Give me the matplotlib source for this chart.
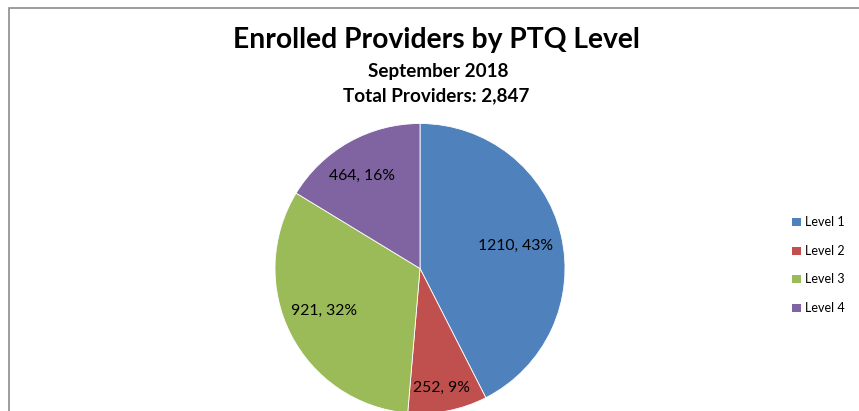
import numpy as np
import matplotlib
matplotlib.use("Agg")
import matplotlib.pyplot as plt
from matplotlib.patches import Rectangle

categories = ["Level 1", "Level 2", "Level 3", "Level 4"]
values = [1210, 252, 921, 464]
title = "Enrolled Providers by PTQ Level"
subtitle1 = "September 2018"
subtitle2 = "Total Providers: 2,847"

colors = ["#4F81BD", "#C0504D", "#9BBB59", "#8064A2"]
# label placement (radius fraction, angle in degrees) - Excel "best fit"
label_r = [0.68, 0.84, 0.724, 0.753]
label_ang = [13.2, -79.6, 203.9, 122.1]

W, H = 859, 411
fig = plt.figure(figsize=(W / 100, H / 100), dpi=100)
plt.rcParams['font.family'] = ['Lato', 'DejaVu Sans']

# outer frame
fig.patches.append(Rectangle((9 / W, -0.1), 1.2, 1 - 8 / H + 0.1, transform=fig.transFigure,
                             fill=False, edgecolor="#8c8c8c", linewidth=1.2))

cx, cy, r = 420, 268.5, 145
ax = fig.add_axes([(cx - r) / W, 1 - (cy + r) / H, 2 * r / W, 2 * r / H])
wedges, _ = ax.pie(values, colors=colors, startangle=90, counterclock=False, radius=1,
                   wedgeprops=dict(edgecolor="white", linewidth=0.6))
for w in wedges:
    w.set_clip_on(False)
ax.set_xlim(-1, 1)
ax.set_ylim(-1, 1)
ax.set_aspect("equal")
ax.axis("off")

total = sum(values)
for v, lr, la in zip(values, label_r, label_ang):
    pct = round(v / total * 100)
    ax.text(lr * np.cos(np.radians(la)), lr * np.sin(np.radians(la)), f"{v}, {pct}%",
            ha="center", va="center", fontsize=11.3, color="black")

fig.text(436 / W, 1 - 40 / H, title, ha="center", va="center", fontsize=20.3, fontweight="bold")
fig.text(438 / W, 1 - 71 / H, subtitle1, ha="center", va="center", fontsize=13.6, fontweight="bold")
fig.text(436 / W, 1 - 96 / H, subtitle2, ha="center", va="center", fontsize=13.6, fontweight="bold")

# legend
for i, lab in enumerate(categories):
    y = 222 + i * 28.7
    fig.patches.append(Rectangle((792 / W, 1 - (y + 4) / H), 9 / W, 8 / H, transform=fig.transFigure,
                                 facecolor=colors[i], edgecolor="none"))
    fig.text(805 / W, 1 - y / H, lab, ha="left", va="center", fontsize=9)

fig.savefig("out.png", dpi=100)
